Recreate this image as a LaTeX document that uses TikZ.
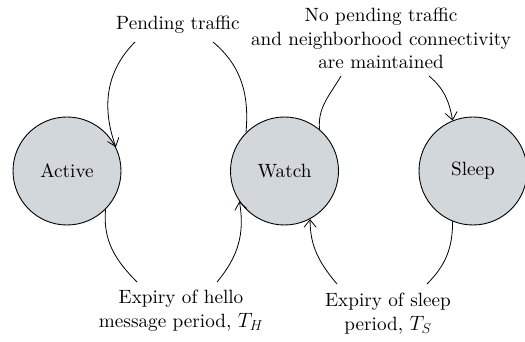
\documentclass[tikz,border=0pt]{standalone}
\usepackage{fontspec}
\setmainfont{lmroman10-regular}[Extension=.otf]
\usetikzlibrary{arrows.meta}
\definecolor{statefill}{HTML}{D1D7DB}
\begin{document}
\begin{tikzpicture}[x=1pt,y=1pt,
  state/.style={circle,draw=black,line width=0.9pt,fill=statefill,
    minimum size=108pt,inner sep=0pt,font=\fontsize{19.2}{23.5}\selectfont},
  lbl/.style={inner sep=0pt,align=center,font=\fontsize{19.2}{23.5}\selectfont},
  edge/.style={line width=0.8pt},
  tip/.style={edge,-{Straight Barb[length=7.5pt,width=12pt,line width=0.8pt]}}]
  \useasboundingbox (0,0) rectangle (525,342);

  % states
  \node[state] (active) at (67,171) {Active};
  \node[state] (watch) at (284.5,171) {Watch};
  \node[state] (sleep) at (473,171) {Sleep};

  % transition labels
  \node[lbl,anchor=north] (pend) at (178,326) {Pending traffic};
  \node[lbl,anchor=north] (nopend) at (381,334)
    {No pending traffic\\and neighborhood connectivity\\are maintained};
  \node[lbl,anchor=north] (hello) at (181,52)
    {Expiry of hello\\message period, $T_H$};
  \node[lbl,anchor=north] (slp) at (388,49)
    {Expiry of sleep\\period, $T_S$};

  % ends of the curves beside the labels
  \coordinate (p1) at (213,300);
  \coordinate (p2) at (135,300);
  \coordinate (p3) at (341,266);
  \coordinate (p4) at (429,266);
  \coordinate (p5) at (137,60);
  \coordinate (p6) at (217,60);
  \coordinate (p7) at (427,58);
  \coordinate (p8) at (337,58);

  % Watch -> Active
  \draw[edge] (watch.135) to[out=85,in=-40] (p1);
  \draw[tip] (p2) to[out=-135,in=110] (active.26);
  % Watch -> Sleep
  \draw[edge] (watch.50) to[out=95,in=-120] (p3);
  \draw[tip] (p4) to[out=-40,in=100] (sleep.112);
  % Active -> Watch
  \draw[edge] (active.-45) to[out=-95,in=135] (p5);
  \draw[tip] (p6) to[out=50,in=-80] (watch.214);
  % Sleep -> Watch
  \draw[edge] (sleep.-112) to[out=-90,in=45] (p7);
  \draw[tip] (p8) to[out=130,in=-90] (watch.-62);
\end{tikzpicture}
\end{document}
